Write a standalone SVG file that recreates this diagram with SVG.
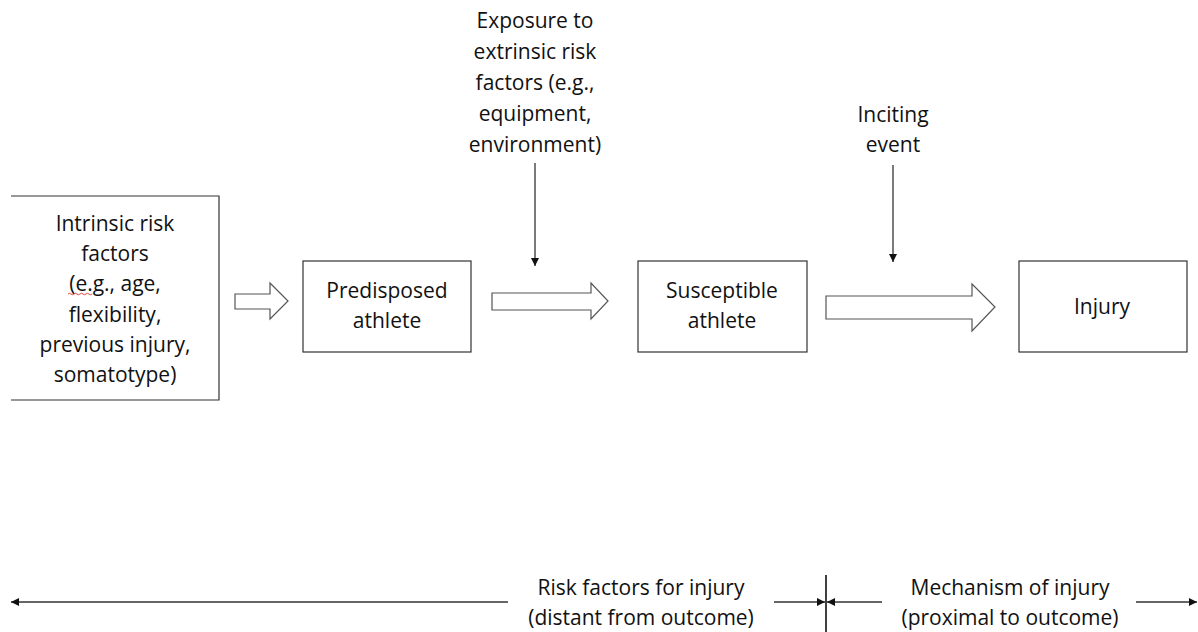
<svg xmlns="http://www.w3.org/2000/svg" width="1198" height="632" viewBox="0 0 1198 632">
  <defs>
    <marker id="tip" viewBox="0 0 8 8" refX="8" refY="4" markerWidth="8" markerHeight="8" markerUnits="userSpaceOnUse" orient="auto">
      <path d="M0,0 L8,4 L0,8 Z" fill="#111"/>
    </marker>
    <style>
      .box { fill: #fff; stroke: #333; stroke-width: 1.2; }
      .lbl { font-family: "Open Sans", "Liberation Sans", sans-serif; font-size: 21px; fill: #111; text-anchor: middle; }
      .block { fill: #fff; stroke: #555; stroke-width: 1.2; stroke-linejoin: miter; }
      .line { stroke: #333; stroke-width: 1.3; fill: none; }
    </style>
  </defs>
  <rect width="1198" height="632" fill="#fff"/>

  <!-- nodes -->
  <g id="intrinsic">
    <path class="box" d="M11,196 H219 V400 H11"/>
    <text class="lbl" x="115" y="231">Intrinsic risk</text>
    <text class="lbl" x="115" y="261">factors</text>
    <text class="lbl" x="115" y="291">(e.g., age,</text>
    <text class="lbl" x="115" y="322">flexibility,</text>
    <text class="lbl" x="115" y="352">previous injury,</text>
    <text class="lbl" x="115" y="382">somatotype)</text>
    <path d="M68,294 q1.5,-1.5 3,0 t3,0 t3,0 t3,0 t3,0 t3,0 t3,0 t3,0" fill="none" stroke="#e03030" stroke-width="0.9"/>
  </g>
  <g id="predisposed">
    <rect class="box" x="303" y="261" width="168" height="91"/>
    <text class="lbl" x="387" y="298">Predisposed</text>
    <text class="lbl" x="387" y="328">athlete</text>
  </g>
  <g id="susceptible">
    <rect class="box" x="638" y="261" width="169" height="91"/>
    <text class="lbl" x="722" y="298">Susceptible</text>
    <text class="lbl" x="722" y="328">athlete</text>
  </g>
  <g id="injury">
    <rect class="box" x="1019" y="261" width="168" height="91"/>
    <text class="lbl" x="1102" y="314">Injury</text>
  </g>
  <g id="exposure">
    <text class="lbl" x="535" y="28">Exposure to</text>
    <text class="lbl" x="535" y="59">extrinsic risk</text>
    <text class="lbl" x="535" y="90">factors (e.g.,</text>
    <text class="lbl" x="535" y="121">equipment,</text>
    <text class="lbl" x="535" y="152">environment)</text>
  </g>
  <g id="inciting">
    <text class="lbl" x="893" y="122">Inciting</text>
    <text class="lbl" x="893" y="152">event</text>
  </g>
  <g id="timeline-labels">
    <text class="lbl" x="641" y="595">Risk factors for injury</text>
    <text class="lbl" x="641" y="625">(distant from outcome)</text>
    <text class="lbl" x="1010" y="595">Mechanism of injury</text>
    <text class="lbl" x="1010" y="625">(proximal to outcome)</text>
  </g>

  <!-- connectors -->
  <g id="connectors">
    <!-- hollow block arrows -->
    <path class="block" d="M235,294 H270 V283 L288,301 L270,319 V309 H235 Z"/>
    <path class="block" d="M492,293 H591 V283 L608,301 L591,319 V310 H492 Z"/>
    <path class="block" d="M826,296 H972 V284 L995,307 L972,331 V319 H826 Z"/>
    <!-- vertical influence arrows -->
    <line class="line" x1="535" y1="163" x2="535" y2="266" marker-end="url(#tip)"/>
    <line class="line" x1="893" y1="165" x2="893" y2="262" marker-end="url(#tip)"/>
    <!-- timeline -->
    <line class="line" x1="508" y1="602" x2="11" y2="602" marker-end="url(#tip)"/>
    <line class="line" x1="774" y1="602" x2="825" y2="602" marker-end="url(#tip)"/>
    <line class="line" x1="882" y1="602" x2="827" y2="602" marker-end="url(#tip)"/>
    <line class="line" x1="1136" y1="602" x2="1197" y2="602" marker-end="url(#tip)"/>
    <line x1="826" y1="575" x2="826" y2="632" stroke="#111" stroke-width="1.6"/>
  </g>
</svg>
